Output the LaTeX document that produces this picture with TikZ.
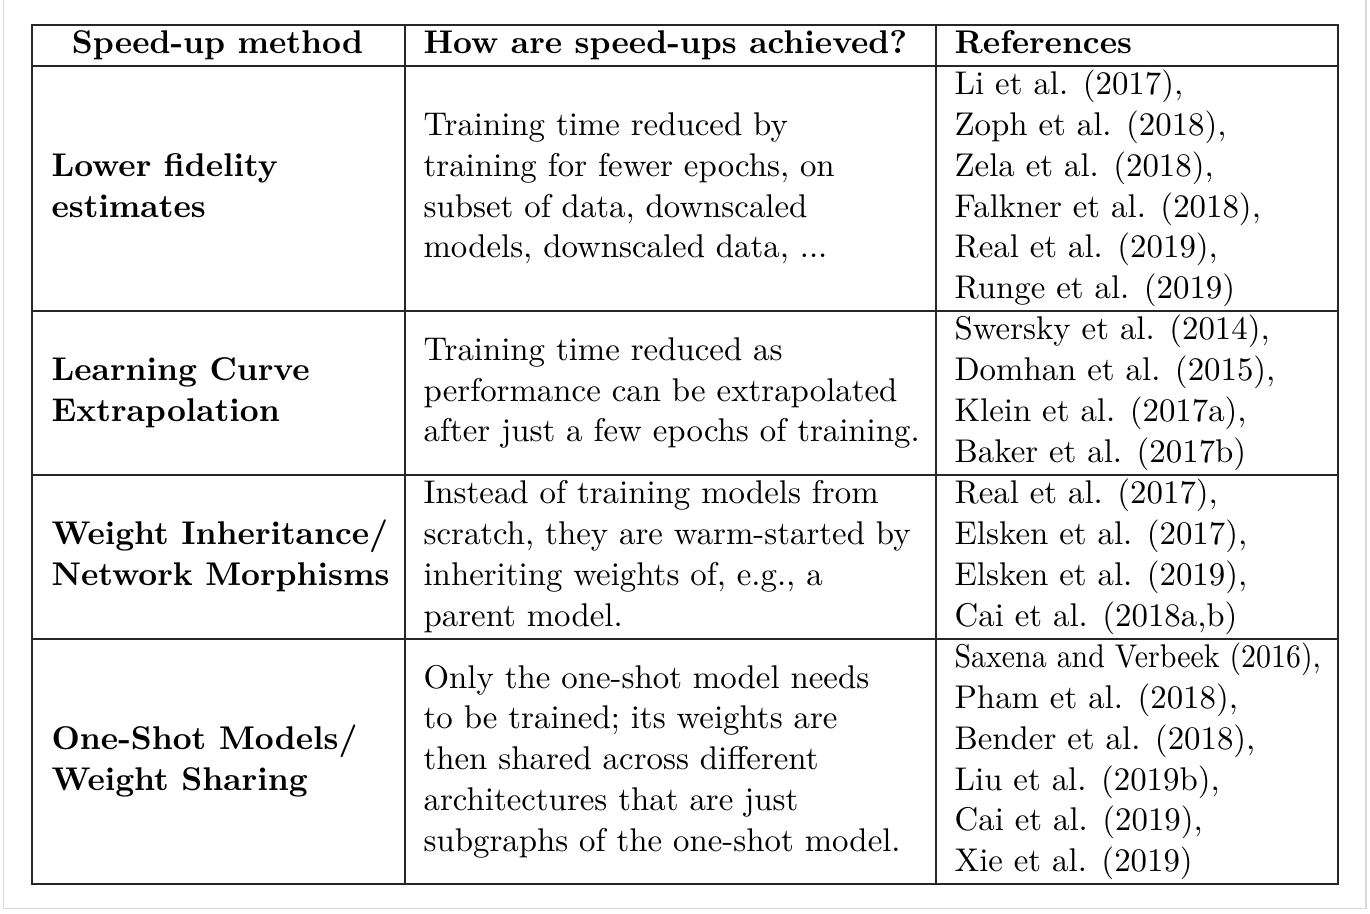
\documentclass[tikz,border=0pt]{standalone}
\usepackage{graphicx}
\begin{document}
\begin{tikzpicture}[x=0.33333pt,y=-0.33333pt]
\tikzset{
  cell/.style={anchor=west, inner sep=0pt, align=left, font=\fontsize{10.95}{13.6}\selectfont},
  headc/.style={anchor=center, inner sep=0pt, align=center, font=\fontsize{10.95}{13.6}\selectfont\bfseries},
  meth/.style={cell, font=\fontsize{10.95}{13.6}\selectfont\bfseries},
  rule/.style={draw=black!85, line width=0.5pt},
  frame/.style={draw=black!14, line width=0.5pt}
}
\useasboundingbox (0,0) rectangle (1370,914);
% outer light frame
\draw[frame] (3.5,-5) -- (3.5,908.5) -- (1366,908.5) -- (1366,-5);
% table rules
\draw[rule] (32,25) rectangle (1338,884);
\draw[rule] (32,66) -- (1338,66);
\draw[rule] (32,311) -- (1338,311);
\draw[rule] (32,475) -- (1338,475);
\draw[rule] (32,639) -- (1338,639);
\draw[rule] (405,25) -- (405,884);
\draw[rule] (936,25) -- (936,884);
% header
\node[headc] (h1) at (217.5,45.5) {\strut Speed-up method};
\node[meth] (h2) at (423,45.5) {\strut How are speed-ups achieved?};
\node[meth] (h3) at (954,45.5) {\strut References};
% row 1
\node[meth] (m1) at (51,188.5) {\strut Lower fidelity\\\strut estimates};
\node[cell] (d1) at (423,188.5) {\strut Training time reduced by\\\strut training for fewer epochs, on\\\strut subset of data, downscaled\\\strut models, downscaled data, ...};
\node[cell] (r1) at (954,188.5) {\strut Li et al. (2017),\\\strut Zoph et al. (2018),\\\strut Zela et al. (2018),\\\strut Falkner et al. (2018),\\\strut Real et al. (2019),\\\strut Runge et al. (2019)};
% row 2
\node[meth] (m2) at (51,393) {\strut Learning Curve\\\strut Extrapolation};
\node[cell] (d2) at (423,393) {\strut Training time reduced as\\\strut performance can be extrapolated\\\strut after just a few epochs of training.};
\node[cell] (r2) at (954,393) {\strut Swersky et al. (2014),\\\strut Domhan et al. (2015),\\\strut Klein et al. (2017a),\\\strut Baker et al. (2017b)};
% row 3
\node[meth] (m3) at (51,557) {\strut Weight Inheritance/\\\strut Network Morphisms};
\node[cell] (d3) at (423,557) {\strut Instead of training models from\\\strut scratch, they are warm-started by\\\strut inheriting weights of, e.g., a\\\strut parent model.};
\node[cell] (r3) at (954,557) {\strut Real et al. (2017),\\\strut Elsken et al. (2017),\\\strut Elsken et al. (2019),\\\strut Cai et al. (2018a,b)};
% row 4
\node[meth] (m4) at (51,761.5) {\strut One-Shot Models/\\\strut Weight Sharing};
\node[cell] (d4) at (423,761.5) {\strut Only the one-shot model needs\\\strut to be trained; its weights are\\\strut then shared across different\\\strut architectures that are just\\\strut subgraphs of the one-shot model.};
\node[cell] (r4) at (954,761.5) {\strut\scalebox{0.91}[1]{Saxena and Verbeek (2016),}\\\strut Pham et al. (2018),\\\strut Bender et al. (2018),\\\strut Liu et al. (2019b),\\\strut Cai et al. (2019),\\\strut Xie et al. (2019)};
\end{tikzpicture}
\end{document}
